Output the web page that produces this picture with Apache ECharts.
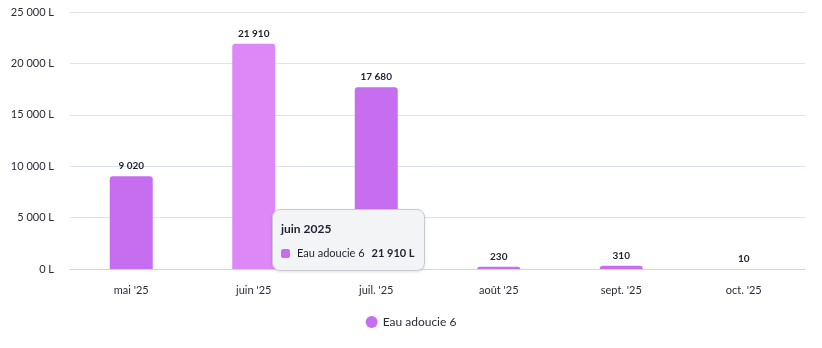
<!DOCTYPE html>
<html><head><meta charset="utf-8">
<script src="https://cdn.jsdelivr.net/npm/echarts@6/dist/echarts.min.js"></script>
<style>html,body{margin:0;padding:0;background:#fff}#c{width:822px;height:348px}</style>
</head><body><div id="c"></div>
<script>
const categories = ["mai '25", "juin '25", "juil. '25", "août '25", "sept. '25", "oct. '25"];
const fullMonths = ["mai 2025", "juin 2025", "juillet 2025", "août 2025", "septembre 2025", "octobre 2025"];
const seriesName = "Eau adoucie 6";
const values = [9020, 21910, 17680, 230, 310, 10];
const yTicks = { min: 0, max: 25000, interval: 5000 };

const fmt = v => String(v).replace(/\B(?=(\d{3})+(?!\d))/g, ' ');
const FONT = 'Lato, "Noto Sans", sans-serif';
const chart = echarts.init(document.getElementById('c'));
chart.setOption({
  animation: false,
  textStyle: { fontFamily: FONT },
  grid: { left: 70, right: 17, top: 12, bottom: 79 },
  tooltip: {
    trigger: 'axis',
    axisPointer: { type: 'none' },
    alwaysShowContent: true,
    transitionDuration: 0,
    position: [272, 209],
    backgroundColor: '#f3f4f6',
    borderColor: '#c9cbd0',
    borderWidth: 1,
    padding: [12, 9, 10, 8],
    extraCssText: 'border-radius:8px;box-shadow:0 1px 3px rgba(0,0,0,0.12);',
    formatter: params => {
      const p = params[0];
      return '<div style="font-family:' + FONT.replace(/"/g, "'") + ';color:#1f2030;line-height:14px;">' +
        '<div style="font-weight:bold;font-size:12px;margin-bottom:10px;">' + fullMonths[p.dataIndex] + '</div>' +
        '<div style="font-size:11px;display:flex;align-items:center;">' +
        '<span style="display:inline-block;width:9px;height:9px;border-radius:2px;background:#c76ef0;margin-right:7px;"></span>' +
        '<span>' + seriesName + '</span><span style="font-weight:bold;margin-left:7px;">' + fmt(p.value) + ' L</span></div></div>';
    }
  },
  legend: {
    bottom: 15, left: 'center', icon: 'circle', itemWidth: 12, itemHeight: 12, itemGap: 6,
    textStyle: { color: '#2a2b3a', fontSize: 12, fontFamily: FONT },
    data: [seriesName]
  },
  xAxis: {
    type: 'category', data: categories,
    axisLine: { lineStyle: { color: '#cfd5e6' } },
    axisTick: { alignWithLabel: true, length: 6, lineStyle: { color: '#cfd5e6' } },
    axisLabel: { color: '#2a2b3a', fontSize: 11, margin: 16, fontFamily: FONT }
  },
  yAxis: {
    type: 'value', min: yTicks.min, max: yTicks.max, interval: yTicks.interval,
    axisLabel: { color: '#2a2b3a', fontSize: 11, margin: 16, fontFamily: FONT, formatter: v => fmt(v) + ' L' },
    splitLine: { lineStyle: { color: '#dde2ef' } }
  },
  series: [{
    name: seriesName, type: 'bar', data: values, barWidth: 43,
    itemStyle: { color: '#c76ef0', borderRadius: [3, 3, 0, 0] },
    emphasis: { itemStyle: { color: '#dd88f6' } },
    label: { show: true, position: 'top', distance: 5, color: '#1f2030', fontSize: 10, fontWeight: 'bold', fontFamily: FONT, formatter: p => fmt(p.value) }
  }]
});
chart.dispatchAction({ type: 'highlight', seriesIndex: 0, dataIndex: 1 });
chart.dispatchAction({ type: 'showTip', seriesIndex: 0, dataIndex: 1 });
</script></body></html>
